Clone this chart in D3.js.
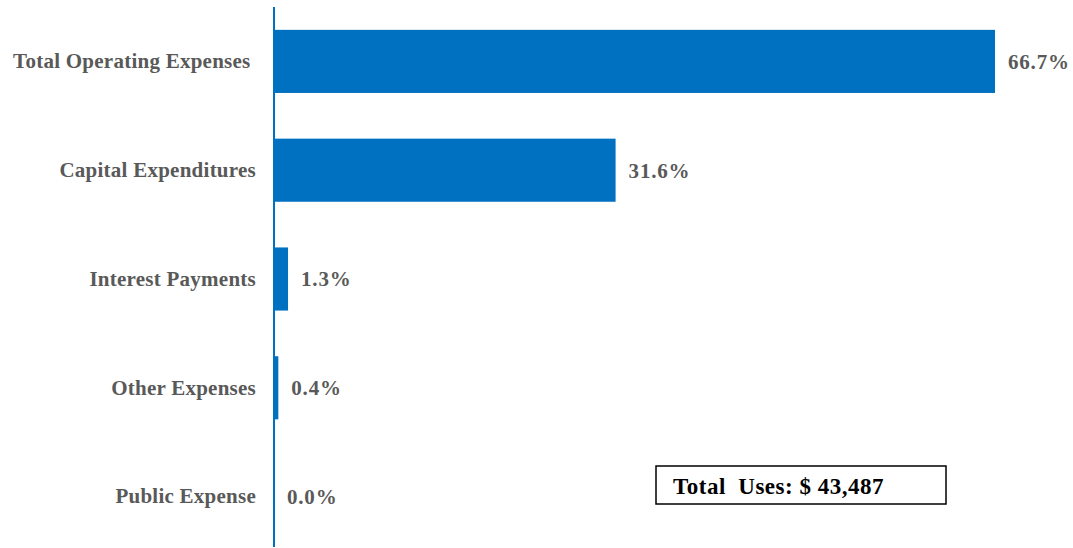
<!DOCTYPE html>
<html>
<head>
<meta charset="utf-8">
<script src="https://cdn.jsdelivr.net/npm/d3@7"></script>
<style>
  html, body { margin: 0; padding: 0; background: #fff; }
  svg { display: block; }
</style>
</head>
<body>
<svg id="chart" width="1073" height="548"></svg>
<script>
// Uses of funds, share of total (%)
const categories = ["Total Operating Expenses ", "Capital Expenditures", "Interest Payments", "Other Expenses", "Public Expense"];
const shares = [66.7, 31.6, 1.3, 0.4, 0.0];
const totalLabel = "Total  Uses: $ 43,487";

const svg = d3.select("#chart");
const x0 = 274;

const x = d3.scaleLinear().domain([0, 66.7]).range([x0, 995]);
const y = d3.scaleBand().domain(categories).range([7, 551]).paddingInner(0.42).paddingOuter(0.21);

const barColor = "#0070C0";
const textColor = "#595959";
const font = "'Liberation Serif', 'Times New Roman', serif";

const data = categories.map((c, i) => ({ c, v: shares[i] }));

// bars
svg.append("g").selectAll("rect").data(data).join("rect")
  .attr("x", x(0))
  .attr("y", d => y(d.c))
  .attr("width", d => x(d.v) - x(0))
  .attr("height", y.bandwidth())
  .attr("fill", barColor);

// category axis
const axis = svg.append("g")
  .attr("transform", `translate(${x0},0)`)
  .call(d3.axisLeft(y).tickSize(0).tickPadding(18));
axis.select(".domain").remove();
axis.selectAll("text")
  .attr("fill", textColor)
  .style("font-family", font)
  .style("font-weight", "bold")
  .style("font-size", "21px")
  .style("letter-spacing", "0.25px")
  .style("white-space", "pre");

svg.append("line")
  .attr("x1", x0).attr("x2", x0)
  .attr("y1", 7).attr("y2", 547)
  .attr("stroke", barColor).attr("stroke-width", 2);

// value labels
svg.append("g").selectAll("text").data(data).join("text")
  .attr("x", d => x(d.v) + 13)
  .attr("y", d => y(d.c) + y.bandwidth() / 2)
  .attr("dy", "0.35em")
  .attr("fill", textColor)
  .style("font-family", font)
  .style("font-weight", "bold")
  .style("font-size", "21px")
  .style("letter-spacing", "0.8px")
  .text(d => d.v.toFixed(1) + "%");

// total box
const box = svg.append("g").attr("transform", "translate(656,466)");
box.append("rect")
  .attr("width", 290).attr("height", 38)
  .attr("fill", "#fff").attr("stroke", "#000").attr("stroke-width", 1.5);
box.append("text")
  .attr("x", 17).attr("y", 20).attr("dy", "0.35em")
  .attr("fill", "#000")
  .style("font-family", font)
  .style("font-weight", "bold")
  .style("font-size", "23px")
  .style("letter-spacing", "0.5px")
  .style("white-space", "pre")
  .text(totalLabel);
</script>
</body>
</html>
